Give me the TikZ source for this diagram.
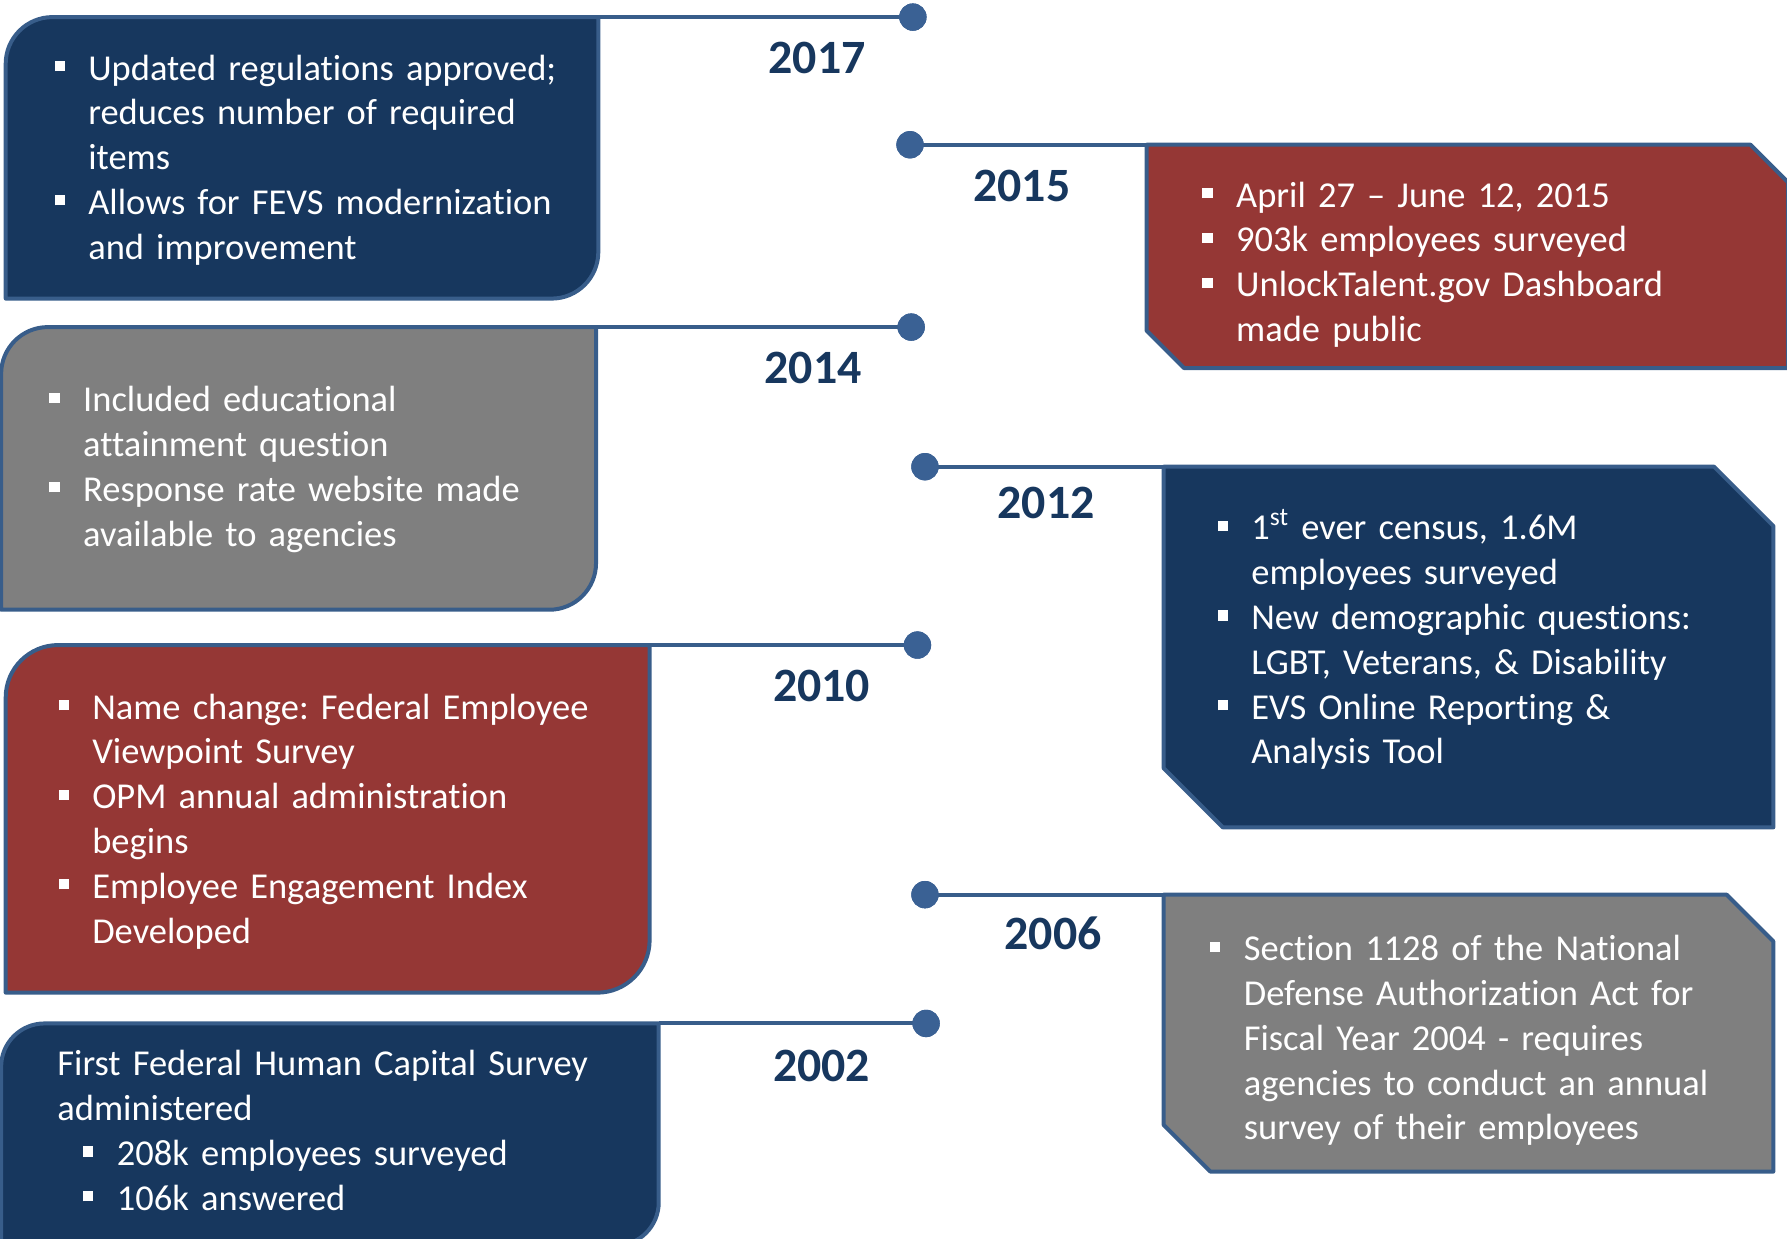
\documentclass[tikz,border=0pt]{standalone}
\usepackage{fontspec}
\setmainfont{Carlito}[Ligatures=NoCommon]
\frenchspacing
\definecolor{navy}{HTML}{17375E}
\definecolor{brick}{HTML}{953735}
\definecolor{slate}{HTML}{7F7F7F}
\definecolor{rimblue}{HTML}{385D8A}
\definecolor{dotblue}{HTML}{3A6194}
\newcommand{\bul}{\makebox[14.8pt][l]{\raisebox{3.9pt}{\rule{4.5pt}{4.5pt}}}}
\newcommand{\skipbul}{\hspace*{14.8pt}}
\newcommand{\notefont}{\fontsize{16}{19.65}\selectfont}
\newcommand{\leftcard}[6]{%
  \draw[card=#1] (#2,#5) -- (#2,#3+#6) arc[start angle=180,end angle=270,radius=#6]
    -- (#4,#3) -- (#4,#5-#6) arc[start angle=0,end angle=90,radius=#6] -- cycle;}
\newcommand{\rightcard}[6]{%
  \draw[card=#1] (#2,#3) -- (#4-#6,#3) -- (#4,#3+#6) -- (#4,#5)
    -- (#2+#6,#5) -- (#2,#5-#6) -- cycle;}

\begin{document}
\begin{tikzpicture}[x=0.5pt,y=-0.5pt,
    card/.style={draw=rimblue,line width=1.75pt,line join=round,fill=#1},
    link/.style={draw=rimblue,line width=1.75pt},
    knob/.style={circle,fill=dotblue,minimum size=12pt,inner sep=0pt},
    notes/.style={anchor=base west,inner sep=0pt,text=white,text width=290pt,
                  align=left,font=\notefont},
    year/.style={anchor=base,inner sep=0pt,text=navy,
                 font=\fontsize{21}{25}\selectfont\bfseries}
]
\useasboundingbox (0,0) rectangle (1568,1087);
\clip (0,0) rectangle (1568,1087);

\node[knob] (d2017) at (801,15) {};
\node[knob] (d2015) at (798.5,127) {};
\node[knob] (d2014) at (799.5,287) {};
\node[knob] (d2012) at (811.6,409.5) {};
\node[knob] (d2010) at (805,566) {};
\node[knob] (d2006) at (811.6,785) {};
\node[knob] (d2002) at (812.6,898) {};

\coordinate (c2017) at (525,15);
\coordinate (c2015) at (1006,127);
\coordinate (c2014) at (523,287);
\coordinate (c2012) at (1021,409.5);
\coordinate (c2010) at (570,566);
\coordinate (c2006) at (1021,785);
\coordinate (c2002) at (578,898);

\foreach \yr in {2017,2015,2014,2012,2010,2006,2002}
  \draw[link] (d\yr.center) -- (c\yr);

\leftcard{navy}{5}{15}{525}{262}{41}
\rightcard{brick}{1006}{127}{1569}{323}{33}
\leftcard{slate}{1}{287}{523}{535}{41}
\rightcard{navy}{1021}{409.5}{1556}{726}{52}
\leftcard{brick}{5}{566}{570}{871}{46}
\rightcard{slate}{1021}{785}{1556}{1028}{41}
\leftcard{navy}{1}{898}{578}{1093}{38}

\foreach \yr in {2017,2015,2014,2012,2010,2006,2002}
  \node[knob] at (d\yr) {};

\node[year] (y2017) at (717,64.4) {2017};
\node[year] (y2015) at (896.5,177) {2015};
\node[year] (y2014) at (713.4,336.3) {2014};
\node[year] (y2012) at (918,454.8) {2012};
\node[year] (y2010) at (721,615.7) {2010};
\node[year] (y2006) at (924,833) {2006};
\node[year] (y2002) at (721,949) {2002};

\node[notes] (t2017) at (47.5,70.2) {\bul Updated regulations approved;\\
  \skipbul reduces number of required\\ \skipbul items\\
  \bul Allows for FEVS modernization\\ \skipbul and improvement};
\node[notes] (t2015) at (1054.7,181.7) {\bul April 27 -- June 12, 2015\\
  \bul 903k employees surveyed\\ \bul UnlockTalent.gov Dashboard\\
  \skipbul made public};
\node[notes] (t2014) at (43,361.2) {\bul Included educational\\
  \skipbul attainment question\\ \bul Response rate website made\\
  \skipbul available to agencies};
\node[notes] (t2012) at (1068,473.8) {\bul 1\textsuperscript{st} ever census, 1.6M\\
  \skipbul employees surveyed\\ \bul New demographic questions:\\
  \skipbul LGBT, Veterans, \& Disability\\ \bul EVS Online Reporting \&\\
  \skipbul Analysis Tool};
\node[notes] (t2010) at (51,631) {\bul Name change: Federal Employee\\
  \skipbul Viewpoint Survey\\ \bul OPM annual administration\\
  \skipbul begins\\ \bul Employee Engagement Index\\ \skipbul Developed};
\node[notes] (t2006) at (1061.4,843) {\bul Section 1128 of the National\\
  \skipbul Defense Authorization Act for\\ \skipbul Fiscal Year 2004 - requires\\
  \skipbul agencies to conduct an annual\\ \skipbul survey of their employees};
\node[notes] (t2002) at (50,944) {First Federal Human Capital Survey\\
  administered\\ \hspace*{11.3pt}\bul 208k employees surveyed\\
  \hspace*{11.3pt}\bul 106k answered};
\end{tikzpicture}
\end{document}
